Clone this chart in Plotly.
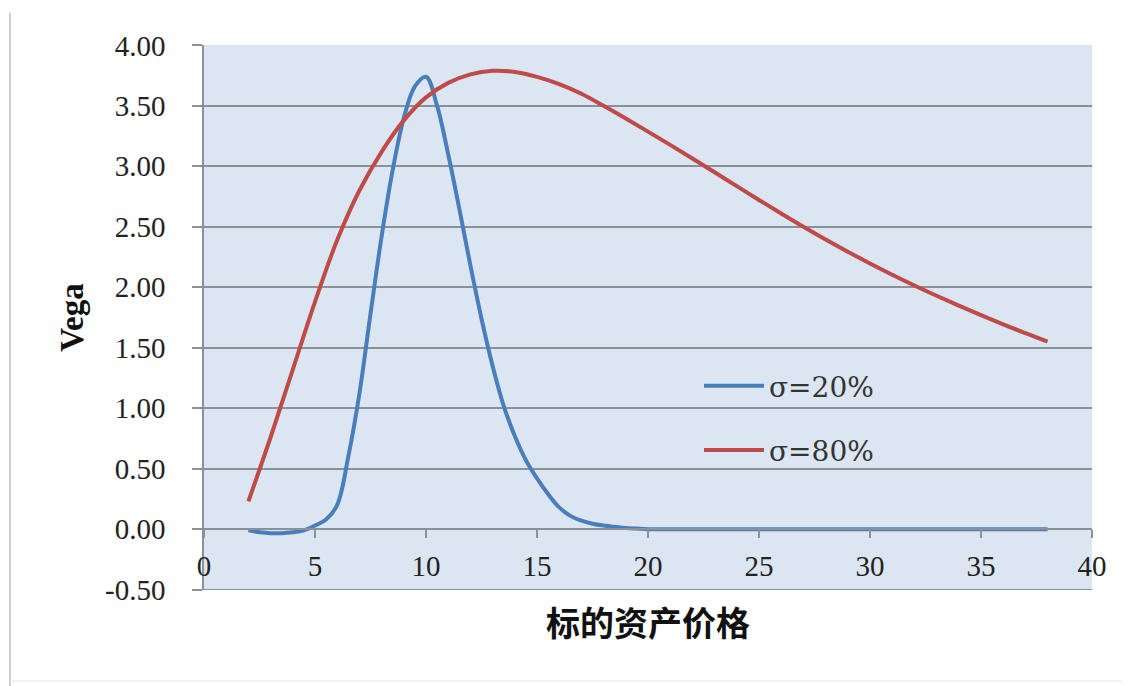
import plotly.graph_objects as go

# ---- data ----
blue_x = [2, 2.5, 3, 3.5, 4, 4.5, 5, 5.5, 6, 6.5, 7, 7.5, 8, 8.5, 9, 9.5, 10, 10.5, 11, 11.5,
          12, 12.5, 13, 13.5, 14, 14.5, 15, 15.5, 16, 16.5, 17, 17.5, 18, 18.5, 19, 19.5, 20,
          22, 24, 26, 28, 30, 32, 34, 36, 38]
blue_v = [-0.01, -0.025, -0.033, -0.033, -0.025, -0.01, 0.03, 0.08, 0.2, 0.6, 1.12, 1.78, 2.42,
          2.97, 3.4, 3.66, 3.74, 3.5, 3.1, 2.65, 2.18, 1.74, 1.35, 1.02, 0.77, 0.57, 0.42, 0.29,
          0.18, 0.11, 0.07, 0.045, 0.03, 0.02, 0.01, 0.005, 0.0,
          0.0, 0.0, 0.0, 0.0, 0.0, 0.0, 0.0, 0.0, 0.0]

red_x = [2, 3, 4, 5, 6, 7, 8, 9, 10, 11, 12, 13, 14, 15, 16, 17, 18, 19, 20, 21, 22, 23, 24,
         25, 26, 27, 28, 29, 30, 31, 32, 33, 34, 35, 36, 37, 38]
red_v = [0.23, 0.76, 1.32, 1.88, 2.39, 2.80, 3.12, 3.38, 3.57, 3.69, 3.76, 3.79, 3.78, 3.74,
         3.68, 3.60, 3.50, 3.395, 3.287, 3.177, 3.065, 2.951, 2.836, 2.722, 2.610, 2.500,
         2.395, 2.294, 2.197, 2.104, 2.015, 1.930, 1.848, 1.769, 1.693, 1.620, 1.550]

series_names = ["σ=20%", "σ=80%"]
x_tick_vals = [0, 5, 10, 15, 20, 25, 30, 35, 40]
y_tick_vals = [-0.5, 0, 0.5, 1.0, 1.5, 2.0, 2.5, 3.0, 3.5, 4.0]
y_tick_text = ["-0.50", "0.00", "0.50", "1.00", "1.50", "2.00", "2.50", "3.00", "3.50", "4.00"]
x_title = "标的资产价格"
y_title = "Vega"

W, H = 1130, 686
L, R, T, B = 196, 46, 37, 104
PW, PH = W - L - R, H - T - B
y_min, y_max = -0.5, 4.0

fig = go.Figure()
fig.add_trace(go.Scatter(x=blue_x, y=blue_v, mode="lines", name=series_names[0],
                         legendgroup="a",
                         line=dict(color="#4A7EBB", width=4, shape="spline", smoothing=1.0)))
fig.add_trace(go.Scatter(x=red_x, y=red_v, mode="lines", name=series_names[1],
                         legendgroup="b",
                         line=dict(color="#BE4B48", width=4, shape="spline", smoothing=1.0)))

grid_col = "#8C9199"
tick_font = dict(family="Liberation Serif", size=29, color="#222222")

fig.update_layout(
    width=W, height=H,
    margin=dict(l=L, r=R, t=T, b=B),
    paper_bgcolor="white",
    plot_bgcolor="#DCE6F2",
    showlegend=True,
    legend=dict(x=(691 - L) / PW, y=(T + PH - 353) / PH,
                xanchor="left", yanchor="top",
                bgcolor="rgba(0,0,0,0)", borderwidth=0,
                font=dict(family="DejaVu Serif", size=28, color="#333333"),
                tracegroupgap=25, itemwidth=60),
    xaxis=dict(range=[0, 40], tickvals=x_tick_vals, ticks="outside", ticklen=8,
               tickcolor=grid_col, tickwidth=1.5,
               showline=True, linecolor=grid_col, linewidth=1.5,
               showgrid=False, zeroline=False,
               anchor="free", position=(0 - y_min) / (y_max - y_min),
               ticklabelstandoff=3,
               tickfont=tick_font,
               title=dict(text=x_title, standoff=30,
                          font=dict(family="Noto Sans CJK SC", size=34, color="#111111",
                                    weight="bold"))),
    yaxis=dict(range=[y_min - 0.003, y_max + 0.003], tickvals=y_tick_vals, ticktext=y_tick_text,
               ticks="outside", ticklen=10, tickcolor=grid_col, tickwidth=1.5,
               showline=True, linecolor=grid_col, linewidth=1.5,
               showgrid=True, gridcolor=grid_col, gridwidth=1.5,
               zeroline=False,
               ticklabelstandoff=21,
               tickfont=tick_font,
               title=dict(text=y_title, standoff=11,
                          font=dict(family="Liberation Serif", size=33, color="#111111",
                                    weight="bold"))),
)

# bottom grid line at -0.50
fig.add_shape(type="line", xref="paper", yref="y", x0=0, x1=1, y0=y_min, y1=y_min,
              line=dict(color=grid_col, width=1.5), layer="below")

# faint outer frame of the original picture
fig.add_shape(type="line", xref="paper", yref="paper",
              x0=(2 - L) / PW, x1=(2 - L) / PW,
              y0=(T + PH - 5) / PH, y1=(T + PH - 680) / PH,
              line=dict(color="#BDBDBD", width=1.5))
fig.add_shape(type="line", xref="paper", yref="paper",
              x0=(2 - L) / PW, x1=(W - 8 - L) / PW,
              y0=(T + PH - 673) / PH, y1=(T + PH - 673) / PH,
              line=dict(color="#EEEEEE", width=1.5))

fig.write_html("out.html")
